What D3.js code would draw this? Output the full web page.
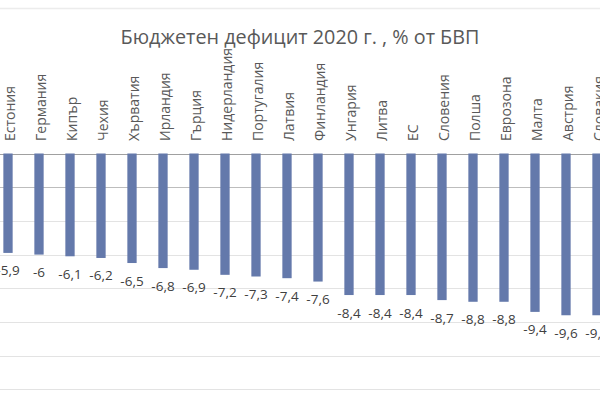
<!DOCTYPE html>
<html><head><meta charset="utf-8">
<script src="https://cdn.jsdelivr.net/npm/d3@7"></script>
<style>html,body{margin:0;padding:0;background:#fff;overflow:hidden}svg{display:block}</style>
</head><body><svg id="c" width="600" height="400"></svg>
<script>
const categories = ["Естония","Германия","Кипър","Чехия","Хърватия","Ирландия","Гърция","Нидерландия","Португалия","Латвия","Финландия","Унгария","Литва","ЕС","Словения","Полша","Еврозона","Малта","Австрия","Словакия"];
const values = [-5.9,-6,-6.1,-6.2,-6.5,-6.8,-6.9,-7.2,-7.3,-7.4,-7.6,-8.4,-8.4,-8.4,-8.7,-8.8,-8.8,-9.4,-9.6,-9.6];
const gridTicks = [0,-2,-4,-6,-8,-10,-12,-14];
const title = "Бюджетен дефицит 2020 г. , % от БВП";

const svg = d3.select("#c");
const font = "'Open Sans', 'Noto Sans', sans-serif";

const x = d3.scaleBand().domain(categories).range([-7.5, 612.5]).paddingInner(0.7).paddingOuter(0.35);
const y = d3.scaleLinear().domain([0, -14]).range([153.5, 389.4]);

// top border
svg.append("line").attr("x1",0).attr("x2",600).attr("y1",8.5).attr("y2",8.5)
  .attr("stroke","#ececec").attr("stroke-width",1.5);

// gridlines
svg.append("g").selectAll("line").data(gridTicks).join("line")
  .attr("x1",0).attr("x2",600)
  .attr("y1",d=>Math.round(y(d))+0.5).attr("y2",d=>Math.round(y(d))+0.5)
  .attr("stroke",d=> d===0 ? "#a0a0a0" : (d===-2 ? "#bdbdbd" : "#e3e3e3"))
  .attr("stroke-width",1);

// title
svg.append("text").attr("x",300).attr("y",43.5).attr("text-anchor","middle")
  .attr("font-family",font).attr("font-size",19.8).attr("fill","#595959").text(title);

// bars
svg.append("g").selectAll("rect").data(values).join("rect")
  .attr("x",(d,i)=>x(categories[i]))
  .attr("width",x.bandwidth())
  .attr("y",y(0))
  .attr("height",d=>y(d)-y(0))
  .attr("fill","#6479ab");

// category labels
svg.append("g").selectAll("text").data(categories).join("text")
  .attr("transform",d=>`translate(${x(d)+x.bandwidth()/2+7},141) rotate(-90)`)
  .attr("text-anchor","start")
  .attr("font-family",font).attr("font-size",14).attr("fill","#595959")
  .text(d=>d);

// value labels
svg.append("g").selectAll("text").data(values).join("text")
  .attr("x",(d,i)=>x(categories[i])+x.bandwidth()/2)
  .attr("y",d=>y(d)+22.5)
  .attr("text-anchor","middle")
  .attr("font-family",font).attr("font-size",13.5).attr("fill","#404040")
  .text(d=>String(d).replace(".",","));
</script></body></html>
